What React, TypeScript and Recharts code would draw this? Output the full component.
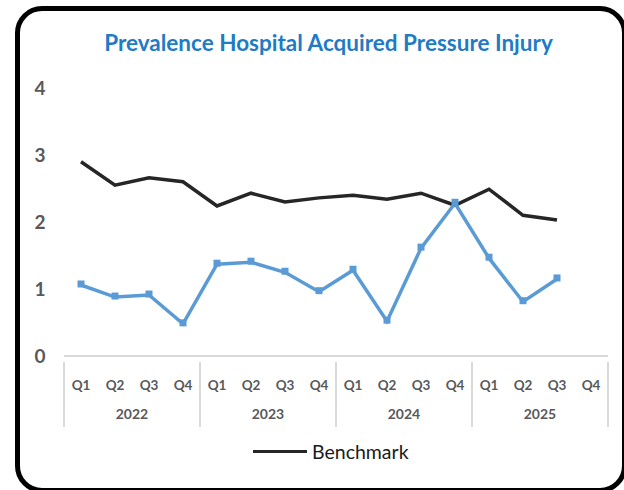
import React from "react";
import { LineChart, Line, XAxis, YAxis } from "recharts";

const quarters = ["Q1", "Q2", "Q3", "Q4", "Q1", "Q2", "Q3", "Q4", "Q1", "Q2", "Q3", "Q4", "Q1", "Q2", "Q3", "Q4"];
const years = ["2022", "2022", "2022", "2022", "2023", "2023", "2023", "2023", "2024", "2024", "2024", "2024", "2025", "2025", "2025", "2025"];
const benchmark = [2.9, 2.55, 2.66, 2.6, 2.24, 2.43, 2.3, 2.36, 2.4, 2.34, 2.43, 2.25, 2.49, 2.1, 2.03, null];
const prevalence = [1.06, 0.88, 0.91, 0.48, 1.37, 1.4, 1.25, 0.96, 1.28, 0.52, 1.61, 2.28, 1.46, 0.81, 1.15, null];
const yTicks = [0, 1, 2, 3, 4];

const data = quarters.map((q, i) => ({
  q,
  year: years[i],
  benchmark: benchmark[i],
  prevalence: prevalence[i],
}));

const W = 624;
const H = 490;
const MARGIN = { top: 88, right: 16, left: 0, bottom: 62 };
const Y_AXIS_W = 64;
const PLOT_W = W - MARGIN.right - Y_AXIS_W;
const BAND = PLOT_W / quarters.length;
const GROUP = PLOT_W / 4;
const FONT = "Lato, 'Open Sans', sans-serif";
const GRAY = "#595959";
const DIV_BOTTOM = 427;

const QuarterTick = (props: any) => {
  const { x, y, payload, index } = props;
  const i = index ?? payload.index;
  return (
    <g>
      {i % 4 === 0 && (
        <line x1={x - BAND / 2} x2={x - BAND / 2} y1={y - 2} y2={DIV_BOTTOM} stroke="#d9d9d9" strokeWidth={2} />
      )}
      {i === quarters.length - 1 && (
        <line x1={x + BAND / 2} x2={x + BAND / 2} y1={y - 2} y2={DIV_BOTTOM} stroke="#d9d9d9" strokeWidth={2} />
      )}
      <text x={x} y={y + 26} textAnchor="middle" fill={GRAY} fontSize={13.5} fontWeight={700} fontFamily={FONT}>
        {payload.value}
      </text>
    </g>
  );
};

const YearTick = (props: any) => {
  const { x, y, payload } = props;
  return (
    <text x={x} y={y + 25} textAnchor="middle" fill={GRAY} fontSize={14} fontWeight={700} fontFamily={FONT}>
      {payload.value}
    </text>
  );
};

const YTick = (props: any) => {
  const { y, payload } = props;
  return (
    <text x={40} y={y + 7} textAnchor="middle" fill={GRAY} fontSize={19} fontWeight={700} fontFamily={FONT}>
      {payload.value}
    </text>
  );
};

const SquareDot = (props: any) => {
  const { cx, cy, value, index } = props;
  if (value == null || cx == null || cy == null) return <g key={index} />;
  return <rect key={index} x={cx - 3.5} y={cy - 4.5} width={7} height={7} fill="#5B9BD5" />;
};

export default function App() {
  return (
    <div
      style={{
        position: "absolute",
        left: 0,
        top: 0,
        width: W,
        height: H,
        overflow: "hidden",
        background: "#fff",
      }}
    >
      <div
        style={{
          position: "absolute",
          left: 15,
          top: 6,
          width: 612,
          height: 487,
          boxSizing: "border-box",
          border: "5px solid #000",
          borderRadius: 27,
        }}
      />
      <div
        style={{
          position: "absolute",
          left: 0,
          top: 28,
          width: 657,
          textAlign: "center",
          color: "#1F7BC6",
          fontFamily: FONT,
          fontWeight: 700,
          fontSize: 22.5,
          lineHeight: "30px",
        }}
      >
        Prevalence Hospital Acquired Pressure Injury
      </div>
      <div style={{ position: "absolute", left: 0, top: 0 }}>
        <LineChart width={W} height={H} data={data} margin={MARGIN}>
          <XAxis
            dataKey="q"
            xAxisId={0}
            height={30}
            padding={{ left: BAND / 2, right: BAND / 2 }}
            tickLine={false}
            axisLine={{ stroke: "#d9d9d9", strokeWidth: 2 }}
            tick={<QuarterTick />}
            interval={0}
          />
          <XAxis
            dataKey="year"
            xAxisId="year"
            height={42}
            allowDuplicatedCategory={false}
            padding={{ left: GROUP / 2, right: GROUP / 2 }}
            tickLine={false}
            axisLine={false}
            tick={<YearTick />}
            interval={0}
          />
          <YAxis
            width={Y_AXIS_W}
            domain={[0, 4]}
            ticks={yTicks}
            axisLine={false}
            tickLine={false}
            tick={<YTick />}
          />
          <Line
            dataKey="benchmark"
            stroke="#262626"
            strokeWidth={3.5}
            dot={false}
            isAnimationActive={false}
          />
          <Line
            dataKey="prevalence"
            stroke="#5B9BD5"
            strokeWidth={3.5}
            dot={<SquareDot />}
            activeDot={false}
            isAnimationActive={false}
          />
        </LineChart>
      </div>
      <div
        style={{
          position: "absolute",
          left: 253,
          top: 440,
          display: "flex",
          alignItems: "center",
          fontFamily: FONT,
          fontSize: 19.5,
          color: "#1a1a1a",
        }}
      >
        <span style={{ display: "inline-block", width: 54, height: 3.5, background: "#262626", marginRight: 5 }} />
        <span>Benchmark</span>
      </div>
    </div>
  );
}
